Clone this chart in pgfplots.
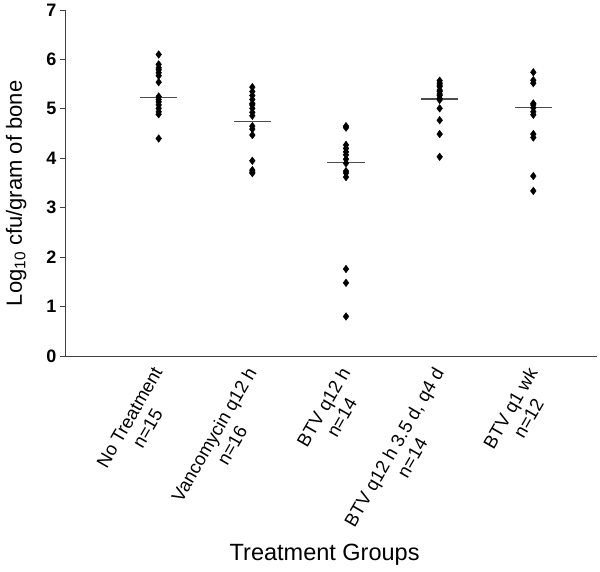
\documentclass[border=0pt]{standalone}
\usepackage{fontspec}
\setmainfont{Liberation Sans}
\usepackage{pgfplots}
\pgfplotsset{compat=1.18}
\begin{document}
\begin{tikzpicture}
\begin{axis}[
  scale only axis, width=532pt, height=346pt,
  xmin=0, xmax=5.68, ymin=0, ymax=7,
  axis x line*=bottom, axis y line*=left,
  axis line style={black!75, line width=0.8pt},
  ytick={0,1,2,3,4,5,6,7}, tick align=outside, major tick length=5pt,
  ytick style={black!75, line width=0.8pt},
  xtick={1,2,3,4,5}, xtick style={draw=none},
  xticklabels={{No Treatment\\n=15},{Vancomycin q12 h\\n=16},{BTV q12 h\\n=14},{BTV q12 h 3.5 d, q4 d\\n=14},{BTV q1 wk\\n=12}},
  xticklabel style={xshift=-8pt, rotate=60, anchor=north east, align=center, font=\fontsize{18.5}{21}\selectfont},
  yticklabel style={font=\bfseries\fontsize{18}{20}\selectfont},
  /pgf/number format/assume math mode=true,
  ylabel={Log\textsubscript{10} cfu/gram of bone},
  ylabel style={font=\fontsize{22}{24}\selectfont, at={(axis description cs:-0.092,0.47)}, anchor=center},
  xlabel={Treatment Groups},
  xlabel style={font=\fontsize{23.5}{25}\selectfont, at={(axis description cs:0.488,-0.575)}, anchor=center},
  clip=false,
]
\addplot[only marks, mark=diamond*, mark size=3.8pt, black] table {
x y
1 6.10
1 5.90
1 5.83
1 5.79
1 5.73
1 5.67
1 5.54
1 5.25
1 5.19
1 5.14
1 5.08
1 5.01
1 4.94
1 4.89
1 4.40
};
\addplot[only marks, mark=diamond*, mark size=3.8pt, black] table {
x y
2 5.44
2 5.35
2 5.27
2 5.19
2 5.11
2 5.08
2 5.01
2 4.93
2 4.86
2 4.65
2 4.59
2 4.47
2 3.95
2 3.76
2 3.72
2 3.70
};
\addplot[only marks, mark=diamond*, mark size=3.8pt, black] table {
x y
3 4.65
3 4.62
3 4.27
3 4.20
3 4.13
3 4.07
3 3.98
3 3.90
3 3.74
3 3.70
3 3.62
3 1.76
3 1.48
3 0.80
};
\addplot[only marks, mark=diamond*, mark size=3.8pt, black] table {
x y
4 5.57
4 5.52
4 5.48
4 5.45
4 5.38
4 5.35
4 5.30
4 5.27
4 5.21
4 5.18
4 5.01
4 4.77
4 4.49
4 4.03
};
\addplot[only marks, mark=diamond*, mark size=3.8pt, black] table {
x y
5 5.74
5 5.58
5 5.52
5 5.11
5 5.08
5 5.02
5 4.94
5 4.88
5 4.49
5 4.42
5 3.64
5 3.34
};
\addplot[black!70, line width=1.2pt] coordinates {(0.8,5.23) (1.2,5.23)};
\addplot[black!70, line width=1.2pt] coordinates {(1.8,4.74) (2.2,4.74)};
\addplot[black!70, line width=1.2pt] coordinates {(2.8,3.92) (3.2,3.92)};
\addplot[black!70, line width=1.2pt] coordinates {(3.8,5.20) (4.2,5.20)};
\addplot[black!70, line width=1.2pt] coordinates {(4.8,5.02) (5.2,5.02)};
\coordinate (bl) at (rel axis cs:-0.1222,-0.6214);
\coordinate (tr) at (rel axis cs:1.0056,1.0289);
\end{axis}
\pgfresetboundingbox
\path (bl) rectangle (tr);
\end{tikzpicture}
\end{document}
